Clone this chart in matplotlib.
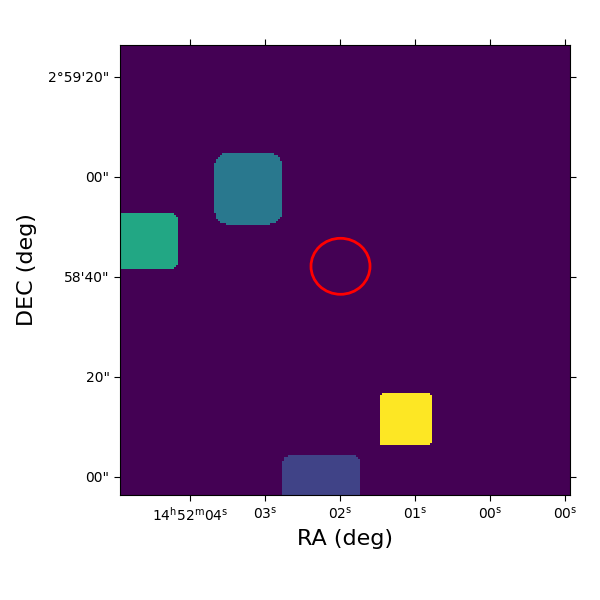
import matplotlib
matplotlib.use("Agg")
import matplotlib.pyplot as plt
import numpy as np
from matplotlib.patches import Ellipse

# Axis ticks (RA in seconds past 14h52m, Dec in arcsec past 2d58'00")
ra_ticks = [4, 3, 2, 1, 0, -1]
ra_labels = [r"14$^\mathrm{h}$52$^\mathrm{m}$04$^\mathrm{s}$", r"03$^\mathrm{s}$",
             r"02$^\mathrm{s}$", r"01$^\mathrm{s}$", r"00$^\mathrm{s}$", r"00$^\mathrm{s}$"]
dec_ticks = [80, 60, 40, 20, 0]
dec_labels = ["2\u00b059'20\"", "00\"", "58'40\"", "20\"", "00\""]

# Sources: RA range (s), Dec range (arcsec), value, corner rounding
src_ra0 = [3.68, 5.07, 1.467, 2.773]
src_ra1 = [2.773, 4.16, 0.773, 1.72]
src_dec0 = [50.6, 41.6, 6.2, -5.6]
src_dec1 = [65.0, 52.8, 16.6, 4.4]
src_val = [0.4, 0.6, 1.0, 0.2]
src_round = [14, 9, 4, 11]

# Target circle
circ_ra, circ_dec = 1.993, 42.14
circ_w, circ_h = 0.787, 11.2

ra_lim = (4.933, -1.067)
dec_lim = (-3.6, 86.4)

# pixel grid (screen-pixel-like units: 75 px per sec, 5 px per arcsec)
n = 225
xs = np.linspace(ra_lim[0], ra_lim[1], n)
ys = np.linspace(dec_lim[0], dec_lim[1], n)
X, Y = np.meshgrid(xs, ys)
img = np.zeros((n, n))
for a0, a1, d0, d1, v, r in zip(src_ra0, src_ra1, src_dec0, src_dec1, src_val, src_round):
    px = (a0 - X) * 75
    py = (Y - d0) * 5
    w = (a0 - a1) * 75
    h = (d1 - d0) * 5
    cx = np.clip(px, r, w - r)
    cy = np.clip(py, r, h - r)
    inside = (px >= 0) & (px <= w) & (py >= 0) & (py <= h) & ((px - cx) ** 2 + (py - cy) ** 2 <= r ** 2)
    img[inside] = v

fig = plt.figure(figsize=(6, 6), dpi=100)
ax = fig.add_axes([0.2, 0.175, 0.75, 0.75])
ax.imshow(img, origin="lower", extent=[xs[0], xs[-1], ys[0], ys[-1]],
          cmap="viridis", vmin=0, vmax=1, interpolation="nearest", aspect="auto")
ax.add_patch(Ellipse((circ_ra, circ_dec), circ_w, circ_h, fill=False, color="red", lw=2))
ax.set_xlim(ra_lim)
ax.set_ylim(dec_lim)
ax.set_xticks(ra_ticks)
ax.set_xticklabels(ra_labels)
ax.set_yticks(dec_ticks)
ax.set_yticklabels(dec_labels)
ax.tick_params(direction="out", length=4, top=True, right=True, labelsize=10)
ax.set_xlabel("RA (deg)", fontsize=16)
ax.set_ylabel("DEC (deg)", fontsize=16, labelpad=8)

fig.savefig("out.png")
